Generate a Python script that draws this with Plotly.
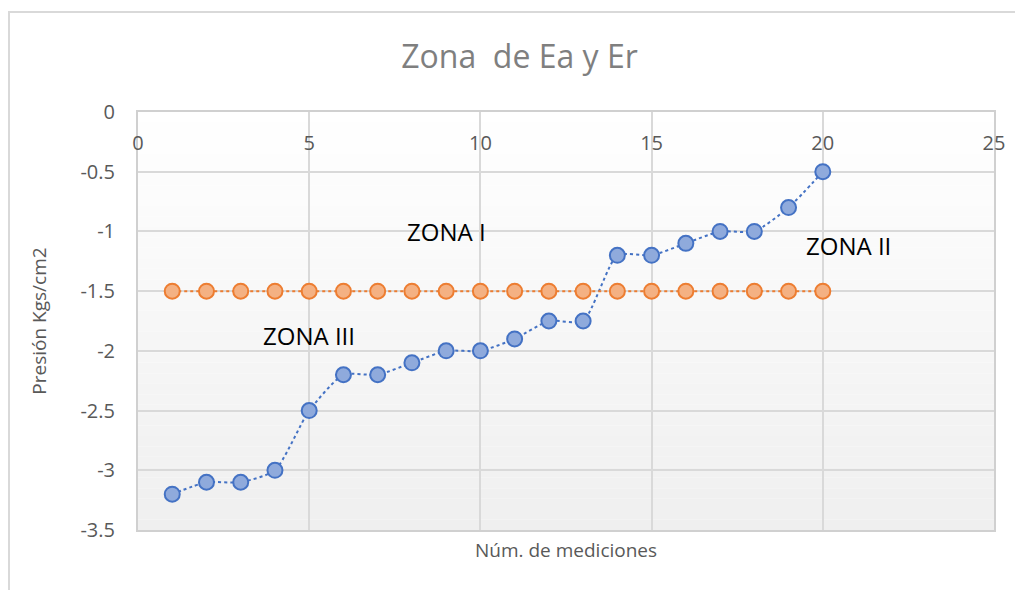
import plotly.graph_objects as go

mediciones = list(range(1, 21))
presion_ea = [-3.2, -3.1, -3.1, -3.0, -2.5, -2.2, -2.2, -2.1, -2.0, -2.0,
              -1.9, -1.75, -1.75, -1.2, -1.2, -1.1, -1.0, -1.0, -0.8, -0.5]
presion_er = [-1.5] * 20

x_ticks = [0, 5, 10, 15, 20, 25]
y_ticks = [0, -0.5, -1, -1.5, -2, -2.5, -3, -3.5]
y_ticktext = ["0", "-0.5", "-1", "-1.5", "-2", "-2.5", "-3", "-3.5"]

zonas = [("ZONA I", 9.0, -1.0), ("ZONA II", 20.75, -1.12), ("ZONA III", 5.0, -1.87)]

FONT = "Open Sans"
GRAY = "#595959"

fig = go.Figure()

fig.add_trace(go.Scatter(
    x=mediciones, y=presion_ea, mode="lines+markers",
    line=dict(color="#4472C4", width=2, dash="dot", shape="spline", smoothing=0.6),
    marker=dict(size=15, color="#8FAADC", line=dict(color="#4472C4", width=2)),
    showlegend=False))
fig.add_trace(go.Scatter(
    x=mediciones, y=presion_er, mode="lines+markers",
    line=dict(color="#ED7D31", width=2, dash="dot"),
    marker=dict(size=15, color="#F4B183", line=dict(color="#ED7D31", width=2)),
    showlegend=False))

# gradient background of plot area
shapes = []
n = 40
for i in range(n):
    t = (i + 0.5) / n
    v = round(255 - (255 - 239) * t)
    shapes.append(dict(type="rect", xref="x domain", yref="y domain",
                       x0=0, x1=1, y0=1 - (i + 1) / n, y1=1 - i / n,
                       fillcolor=f"rgb({v},{v},{v})", line=dict(width=0),
                       layer="below"))
# outer chart border
shapes.append(dict(type="rect", xref="paper", yref="paper",
                   x0=-0.1507, x1=1.2, y0=-0.5, y1=1.239,
                   line=dict(color="#d9d9d9", width=2), fillcolor="rgba(0,0,0,0)"))

annotations = [dict(text=t, x=x, y=y, xref="x", yref="y", showarrow=False,
                    font=dict(family=FONT, size=24, color="black"))
               for t, x, y in zonas]
annotations.append(dict(text="Núm. de mediciones", x=0.5, y=-0.048, xref="paper",
                        yref="paper", showarrow=False, yanchor="middle",
                        font=dict(family=FONT, size=19, color=GRAY)))

fig.update_layout(
    width=1023, height=590,
    margin=dict(l=130, r=37, t=104, b=68),
    paper_bgcolor="white", plot_bgcolor="white",
    title=dict(text="Zona  de Ea y Er", x=0.5, xref="container", xanchor="center",
               y=0.917, yanchor="middle",
               font=dict(family=FONT, size=32, color="#7f7f7f")),
    font=dict(family=FONT, color=GRAY),
    shapes=shapes, annotations=annotations,
    xaxis=dict(range=[0, 25], tickvals=x_ticks, side="top",
               ticklabelposition="inside", ticklabelstandoff=25,
               ticklabeloverflow="allow",
               showgrid=True, gridcolor="#d9d9d9", gridwidth=1.5,
               showline=True, linecolor="#d0d0d0", linewidth=2, mirror=True,
               zeroline=False, tickfont=dict(family=FONT, size=20, color=GRAY)),
    yaxis=dict(range=[-3.5, 0], tickvals=y_ticks, ticktext=y_ticktext,
               ticklabelstandoff=17, ticklabeloverflow="allow",
               showgrid=True, gridcolor="#d9d9d9", gridwidth=1.5,
               showline=True, linecolor="#d0d0d0", linewidth=2, mirror=True,
               zeroline=False, tickfont=dict(family=FONT, size=20, color=GRAY),
               title=dict(text="Presión Kgs/cm2", standoff=29,
                          font=dict(family=FONT, size=19, color=GRAY))),
)

fig.write_html("out.html")
